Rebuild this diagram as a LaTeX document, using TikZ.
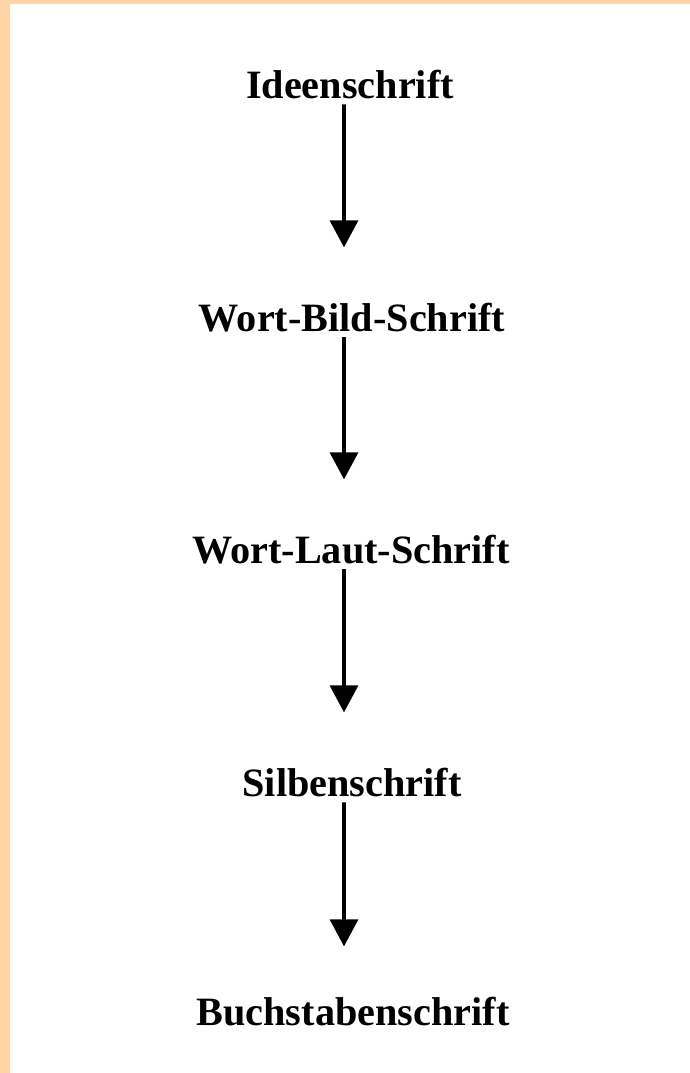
\documentclass[tikz,border=0pt]{standalone}
\usepackage{fontspec}
\setmainfont{Liberation Serif}
\usetikzlibrary{arrows.meta, positioning}
\definecolor{rahmen}{RGB}{255,213,168}
\begin{document}
\begin{tikzpicture}[x=0.02cm, y=-0.02cm,
  stufe/.style={inner sep=0pt, anchor=base, text depth=0pt, font=\fontsize{22.9}{27}\selectfont\bfseries},
  pfeil/.style={-{Triangle[width=0.56cm, length=0.54cm]}, line width=2pt, shorten <=0.12cm, shorten >=1.1cm}]
\fill[rahmen] (0,0) rectangle (690,1073);
\fill[white] (10,4) rectangle (690,1073);
\useasboundingbox (0,0) rectangle (690,1073);
\node (ide) [stufe] at (350,98) {Ideenschrift};
\node (wbs) [stufe] at (352,331) {Wort-Bild-Schrift};
\node (wls) [stufe] at (351,563) {Wort-Laut-Schrift};
\node (sil) [stufe] at (352,796) {Silbenschrift};
\node (buc) [stufe] at (353,1025) {Buchstabenschrift};
\draw[pfeil] ([xshift=-0.12cm]ide.south) -- ([xshift=-0.16cm]wbs.north);
\draw[pfeil] ([xshift=-0.16cm]wbs.north |- wbs.south) -- ([xshift=-0.14cm]wls.north);
\draw[pfeil] ([xshift=-0.14cm]wls.south) -- ([xshift=-0.16cm]sil.north);
\draw[pfeil, shorten >=1.0cm] ([xshift=-0.16cm]sil.south) -- ([xshift=-0.18cm]buc.north);
\end{tikzpicture}
\end{document}
